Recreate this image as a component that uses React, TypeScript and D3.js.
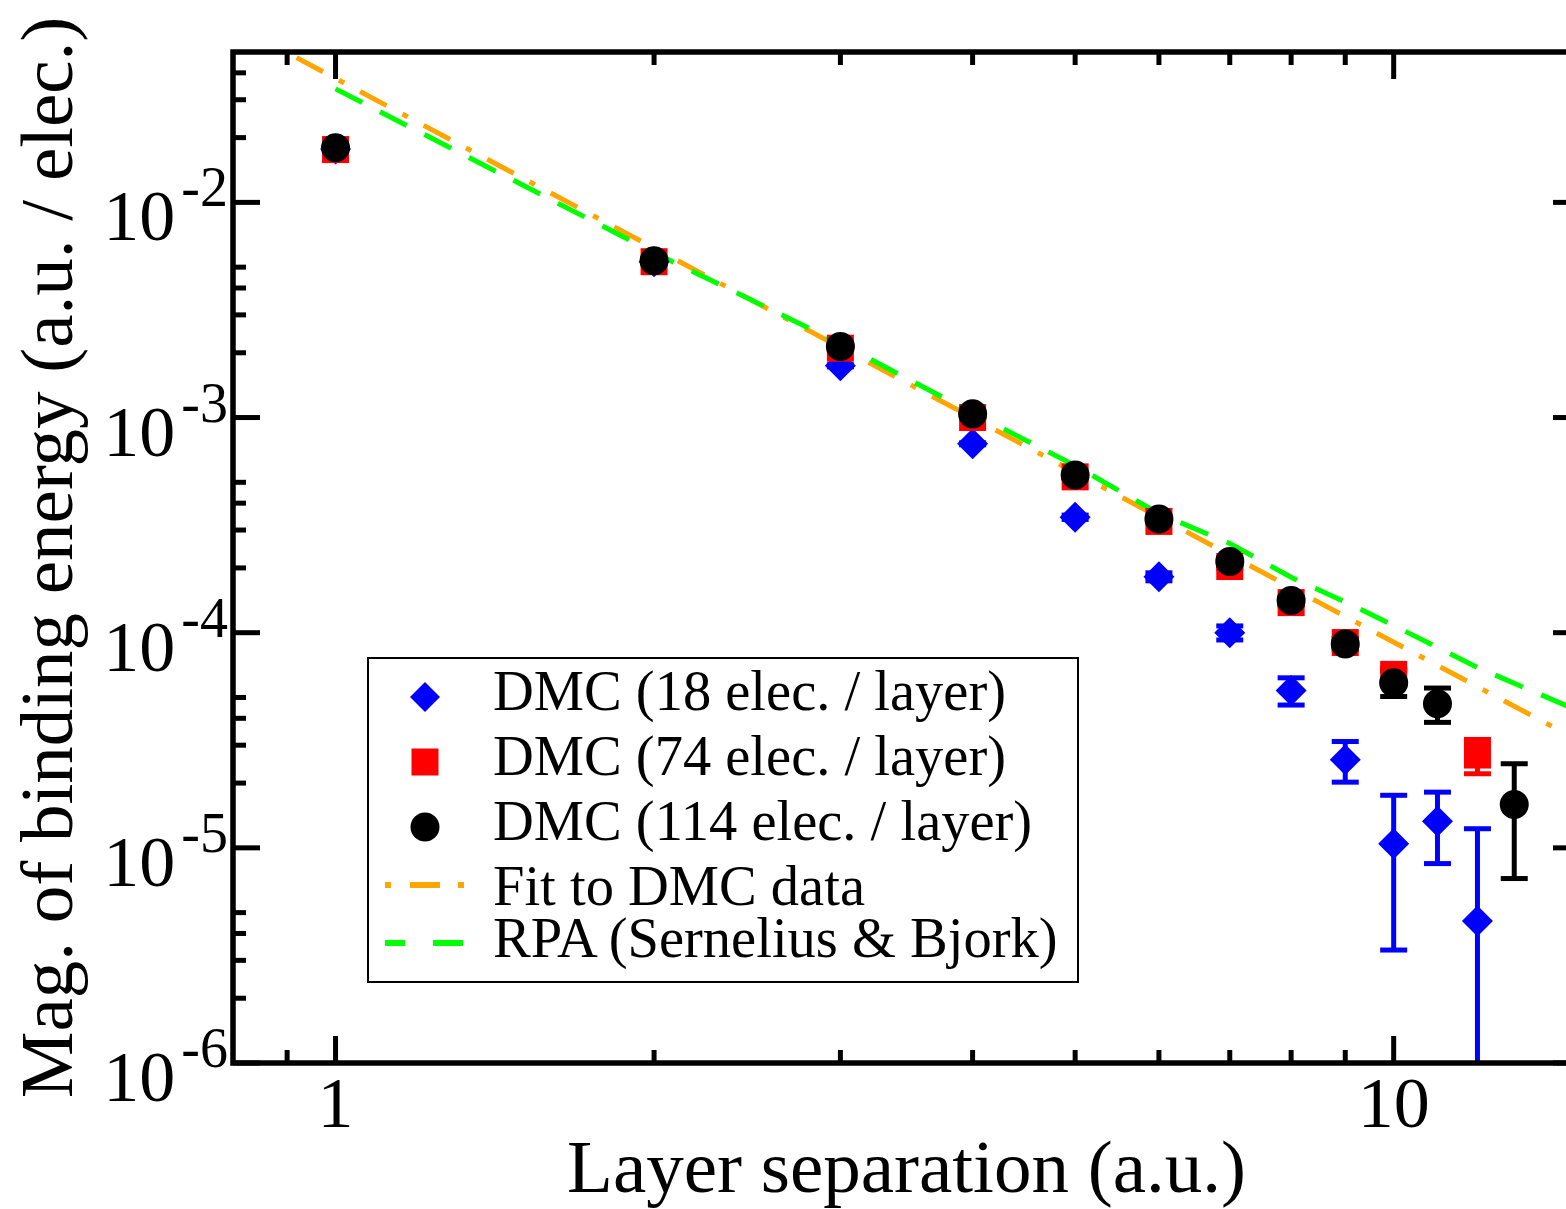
import React from 'react';
import * as d3 from 'd3';

const width = 1566;
const height = 1209;
const margin = { top: 52, right: -14, bottom: 146, left: 233 };

// layer separation (a.u.) and |binding energy| per electron (a.u.)
const sepBlue = [1, 2, 3, 4, 5, 6, 7, 8, 9, 10, 11, 12];
const eBlue = [0.0177, 0.0053, 1.74e-3, 7.55e-4, 3.44e-4, 1.82e-4, 1.0e-4, 5.39e-5, 2.57e-5, 1.045e-5, 1.33e-5, 4.57e-6];
const errBlue = [2e-4, 5e-5, 2e-5, 8e-6, 8e-6, 7.8e-6, 7.5e-6, 7.8e-6, 5.5e-6, 7.1e-6, 4.85e-6, 7.7e-6];

const sepRed = [1, 2, 3, 4, 5, 6, 7, 8, 9, 10, 12];
const eRed = [0.0176, 5.3e-3, 2.1e-3, 1.0e-3, 5.3e-4, 3.29e-4, 2.03e-4, 1.38e-4, 9.0e-5, 6.4e-5, 2.7e-5];
const errRed = [2e-4, 6e-5, 2e-5, 8e-6, 5e-6, 4e-6, 4e-6, 4e-6, 4e-6, 4e-6, 4.9e-6];

const sepBlack = [1, 2, 3, 4, 5, 6, 7, 8, 9, 10, 11, 13];
const eBlack = [0.01795, 5.36e-3, 2.14e-3, 1.04e-3, 5.4e-4, 3.38e-4, 2.14e-4, 1.41e-4, 8.87e-5, 5.85e-5, 4.68e-5, 1.59e-5];
const errBlack = [2e-4, 5e-5, 2e-5, 1e-5, 6e-6, 5e-6, 5e-6, 5e-6, 5e-6, 8e-6, 8.5e-6, 8.7e-6];

// fit to DMC data (dash-dot)
const sepFit = [0.8, 1, 2, 4, 8, 15];
const eFit = [0.0676, 0.0377, 6.13e-3, 9.97e-4, 1.62e-4, 3.13e-5];

// RPA (Sernelius & Bjork), dashed
const sepRpa = [1, 2, 3, 4, 5, 6, 7, 8, 9, 10, 12, 15];
const eRpa = [0.0337, 5.84e-3, 2.21e-3, 1.05e-3, 5.98e-4, 3.58e-4, 2.6e-4, 1.81e-4, 1.39e-4, 1.08e-4, 6.89e-5, 4.3e-5];

const xMajor = [1, 10];
const xMinor = [0.9, 2, 3, 4, 5, 6, 7, 8, 9];
const yMajor = [1e-6, 1e-5, 1e-4, 1e-3, 1e-2];
const yMajorLabels = ['-6', '-5', '-4', '-3', '-2'];
const yMinor = [
  2e-6, 3e-6, 4e-6, 5e-6, 2e-5, 3e-5, 4e-5, 5e-5, 2e-4, 3e-4, 4e-4, 5e-4,
  2e-3, 3e-3, 4e-3, 5e-3, 2e-2, 3e-2, 4e-2,
];

const legendLabels = [
  'DMC (18 elec. / layer)',
  'DMC (74 elec. / layer)',
  'DMC (114 elec. / layer)',
  'Fit to DMC data',
  'RPA (Sernelius & Bjork)',
];

const font = '"Liberation Serif", "Times New Roman", serif';

function diamond(cx: number, cy: number, r: number) {
  return `M${cx},${cy - r}L${cx + r},${cy}L${cx},${cy + r}L${cx - r},${cy}Z`;
}

function ErrorBars(props: { xs: number[]; ys: number[]; errs: number[]; color: string; x: any; y: any; bottom: number }) {
  const { xs, ys, errs, color, x, y, bottom } = props;
  return (
    <g stroke={color} strokeWidth={5} fill="none">
      {xs.map((d, i) => {
        const px = x(d);
        const lo = ys[i] - errs[i];
        const top = y(ys[i] + errs[i]);
        const bot = lo > 0 ? y(lo) : bottom;
        return (
          <g key={i}>
            <line x1={px} x2={px} y1={top} y2={bot} />
            <line x1={px - 13.5} x2={px + 13.5} y1={top} y2={top} />
            {lo > 0 && <line x1={px - 13.5} x2={px + 13.5} y1={bot} y2={bot} />}
          </g>
        );
      })}
    </g>
  );
}

export default function App() {
  const x0 = margin.left;
  const x1 = width - margin.right;
  const y0 = margin.top;
  const y1 = height - margin.bottom;

  const x = d3.scaleLog().domain([0.8, 15]).range([x0, x1]);
  const y = d3.scaleLog().domain([1e-6, 0.05]).range([y1, y0]);

  const line = d3.line<number>().x((d: any) => x(d[0])).y((d: any) => y(d[1]));
  const fitPath = line(sepFit.map((d, i) => [d, eFit[i]] as any));
  const rpaPath = line(sepRpa.map((d, i) => [d, eRpa[i]] as any));

  const major = 27;
  const minor = 13;

  return (
    <svg width={width} height={height} style={{ position: 'absolute', left: 0, top: 0, background: '#fff' }}>
      <defs>
        <clipPath id="plot">
          <rect x={x0} y={y0} width={x1 - x0} height={y1 - y0} />
        </clipPath>
      </defs>

      <g clipPath="url(#plot)" fill="none" strokeWidth={5}>
        <path d={fitPath || ''} stroke="#ffa500" strokeDasharray="30 18 6 18" />
        <path d={rpaPath || ''} stroke="#00ff00" strokeDasharray="30 20" />
        <ErrorBars xs={sepBlue} ys={eBlue} errs={errBlue} color="#0000ff" x={x} y={y} bottom={y1} />
        <ErrorBars xs={sepRed} ys={eRed} errs={errRed} color="#ff0000" x={x} y={y} bottom={y1} />
        <ErrorBars xs={sepBlack} ys={eBlack} errs={errBlack} color="#000000" x={x} y={y} bottom={y1} />
      </g>

      <g>
        {sepBlue.map((d, i) => (
          <path key={i} d={diamond(x(d), y(eBlue[i]), 15.5)} fill="#0000ff" />
        ))}
        {sepRed.map((d, i) => (
          <rect key={i} x={x(d) - 13.5} y={y(eRed[i]) - 13.5} width={27} height={27} fill="#ff0000" />
        ))}
        {sepBlack.map((d, i) => (
          <circle key={i} cx={x(d)} cy={y(eBlack[i])} r={14.5} fill="#000" />
        ))}
      </g>

      {/* frame */}
      <rect x={x0} y={y0} width={x1 - x0} height={y1 - y0} fill="none" stroke="#000" strokeWidth={5.5} />

      {/* ticks, inward on all four sides */}
      <g stroke="#000" strokeWidth={5}>
        {xMajor.map((d) => (
          <g key={'xM' + d}>
            <line x1={x(d)} x2={x(d)} y1={y1} y2={y1 - major} />
            <line x1={x(d)} x2={x(d)} y1={y0} y2={y0 + major} />
          </g>
        ))}
        {xMinor.map((d) => (
          <g key={'xm' + d}>
            <line x1={x(d)} x2={x(d)} y1={y1} y2={y1 - minor} />
            <line x1={x(d)} x2={x(d)} y1={y0} y2={y0 + minor} />
          </g>
        ))}
        {yMajor.map((d) => (
          <g key={'yM' + d}>
            <line x1={x0} x2={x0 + major} y1={y(d)} y2={y(d)} />
            <line x1={x1} x2={x1 - major} y1={y(d)} y2={y(d)} />
          </g>
        ))}
        {yMinor.map((d) => (
          <g key={'ym' + d}>
            <line x1={x0} x2={x0 + minor} y1={y(d)} y2={y(d)} />
            <line x1={x1} x2={x1 - minor} y1={y(d)} y2={y(d)} />
          </g>
        ))}
      </g>

      {/* tick labels */}
      <g fontFamily={font} fill="#000">
        {xMajor.map((d) => (
          <text key={d} x={x(d)} y={y1 + 64} fontSize={72} textAnchor="middle">
            {d}
          </text>
        ))}
        {yMajor.map((d, i) => (
          <text key={d} x={x0 - 5} y={y(d) + 38} fontSize={72} textAnchor="end">
            10
            <tspan fontSize={56} dx={6} dy={-34}>
              {yMajorLabels[i]}
            </tspan>
          </text>
        ))}
      </g>

      {/* axis titles */}
      <text x={(x0 + x1) / 2} y={1192} fontFamily={font} fontSize={75} textAnchor="middle">
        Layer separation (a.u.)
      </text>
      <text
        transform={`translate(72,${(y0 + y1) / 2}) rotate(-90)`}
        fontFamily={font}
        fontSize={75}
        textAnchor="middle"
      >
        Mag. of binding energy (a.u. / elec.)
      </text>

      {/* legend */}
      <g>
        <rect x={368} y={658} width={710} height={324} fill="#fff" stroke="#000" strokeWidth={2} />
        <path d={diamond(425, 697, 15)} fill="#0000ff" />
        <rect x={425 - 13.5} y={762 - 13.5} width={27} height={27} fill="#ff0000" />
        <circle cx={425} cy={827} r={14.5} fill="#000" />
        <line x1={385} x2={464} y1={885} y2={885} stroke="#ffa500" strokeWidth={6} strokeDasharray="6 19 30 18 6" />
        <line x1={385} x2={464} y1={943} y2={943} stroke="#00ff00" strokeWidth={6} strokeDasharray="20 28 30" />
        {legendLabels.map((t, i) => (
          <text key={t} x={493} y={[710, 775, 840, 905, 957][i]} fontFamily={font} fontSize={56.5}>
            {t}
          </text>
        ))}
      </g>
    </svg>
  );
}
